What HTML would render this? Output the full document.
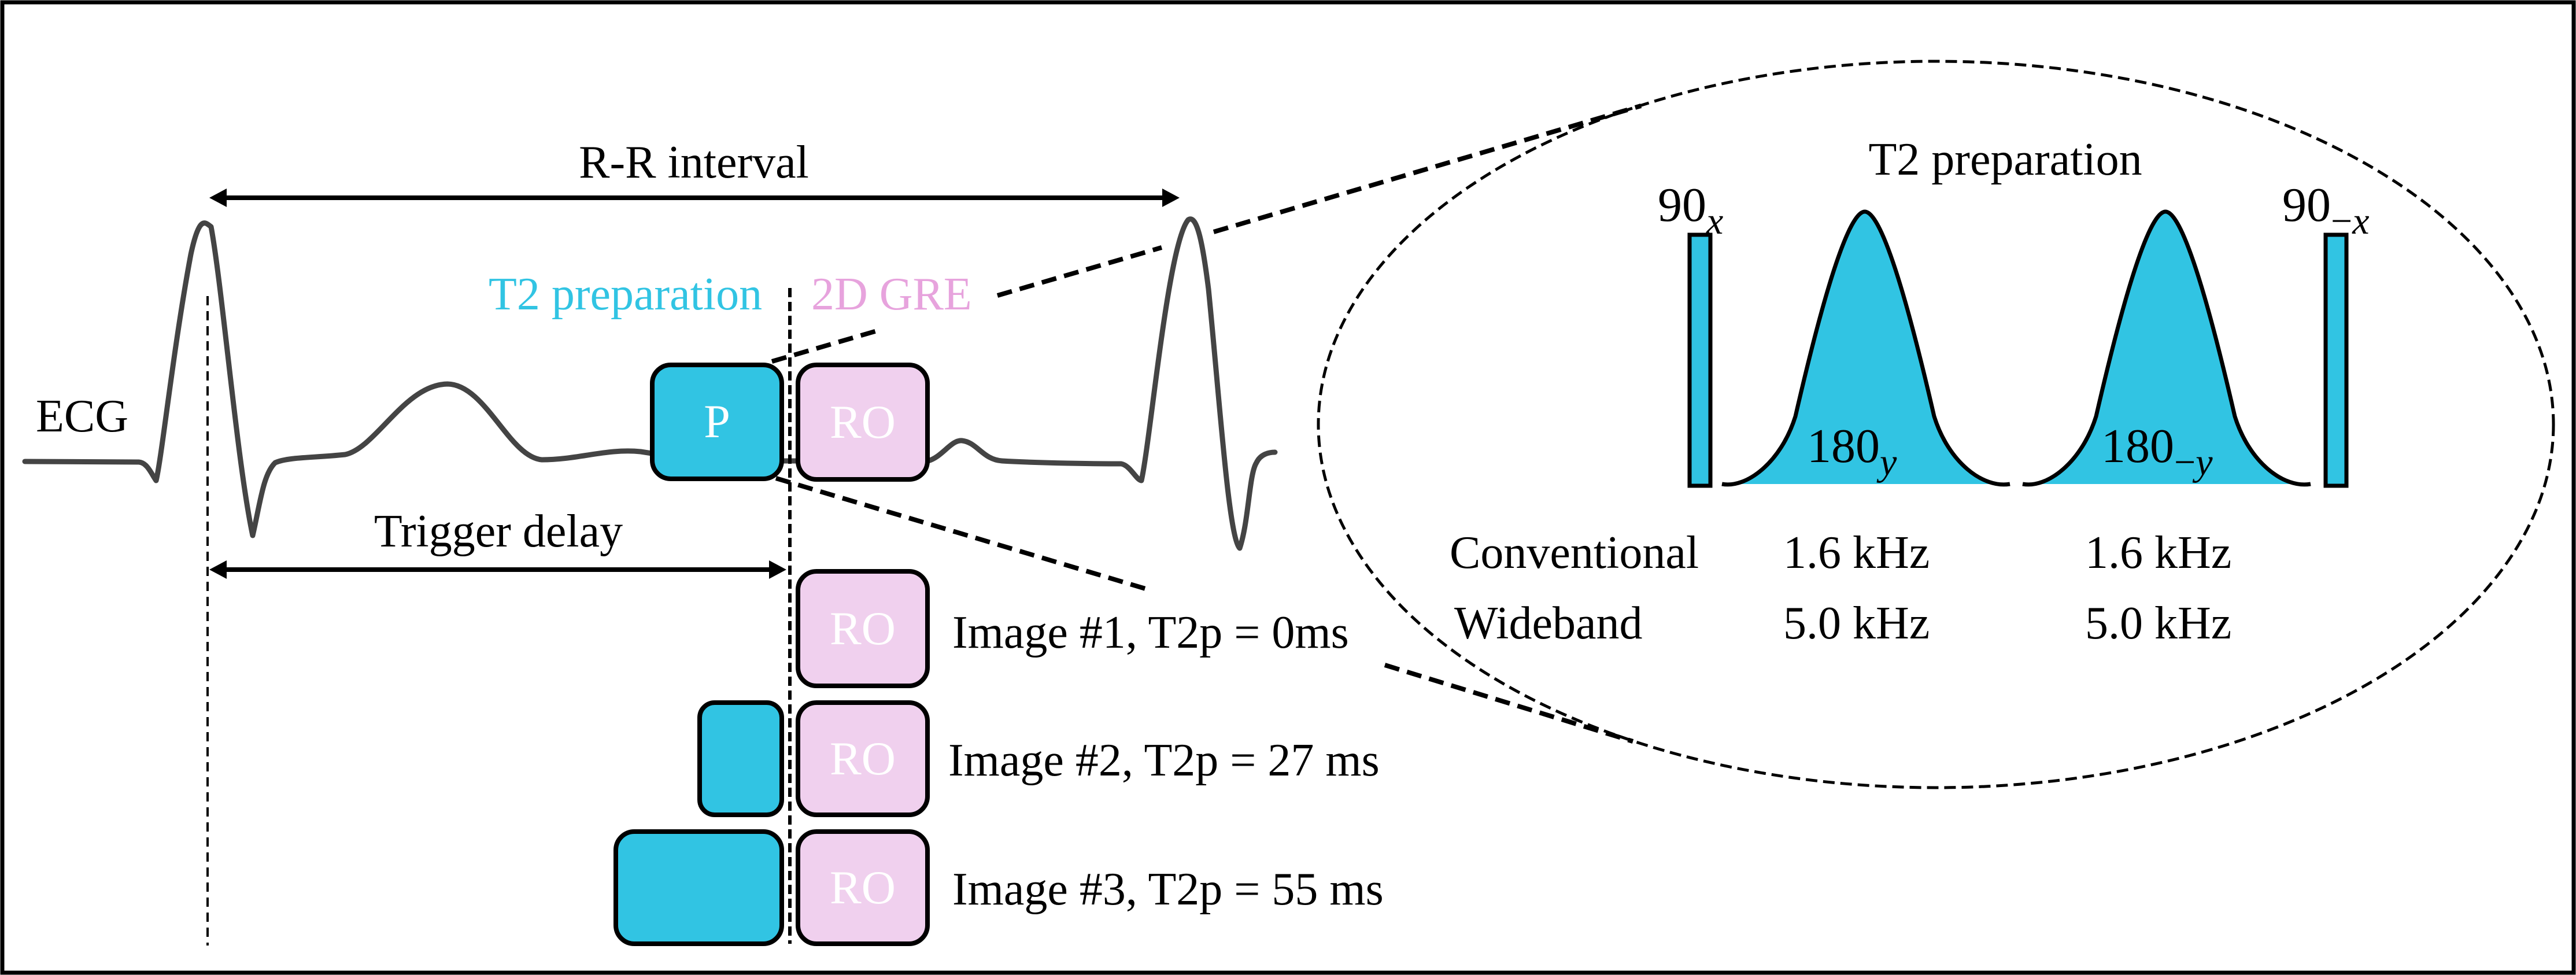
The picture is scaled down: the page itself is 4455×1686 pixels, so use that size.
<!DOCTYPE html>
<html><head><meta charset="utf-8"><style>
html,body{margin:0;padding:0;background:#fff}
svg{display:block}
</style></head><body>
<svg width="4455" height="1686" viewBox="0 0 4455 1686" xmlns="http://www.w3.org/2000/svg" font-family="'Liberation Serif','Times New Roman','DejaVu Serif',serif">
<rect x="4" y="4" width="4447" height="1678" fill="#fff" stroke="#000" stroke-width="7"/>

<!-- ECG trace -->
<path d="M43,798 L240,799 C255,800 262,820 270,831 C280,790 300,600 330,440 C345,370 355,385 365,392 C385,500 410,800 437,926 C450,870 455,820 476,800 C500,790 540,792 597,786 C650,775 700,665 774,664 C840,665 880,790 937,795 C1000,795 1050,775 1108,781 L1140,786 M1352,797 L1605,797 C1630,790 1645,760 1664,762 C1690,765 1700,795 1733,797 C1800,801 1900,802 1939,802 C1955,805 1965,830 1974,831 C1990,760 2020,420 2055,380 C2070,370 2080,420 2090,500 C2110,700 2125,930 2144,948 C2160,900 2160,820 2173,800 C2180,785 2195,782 2205,782" fill="none" stroke="#444" stroke-width="9" stroke-linecap="round" stroke-linejoin="round"/>

<!-- vertical dashed lines -->
<line x1="359" y1="512" x2="359" y2="1635" stroke="#000" stroke-width="4" stroke-dasharray="16,10"/>
<line x1="1366" y1="498" x2="1366" y2="1632" stroke="#000" stroke-width="6" stroke-dasharray="16,8"/>

<!-- arrows -->
<line x1="380" y1="342" x2="2020" y2="342" stroke="#000" stroke-width="8"/>
<polygon points="362,342 392,326 392,358" fill="#000"/>
<polygon points="2040,342 2010,326 2010,358" fill="#000"/>
<line x1="380" y1="985" x2="1340" y2="985" stroke="#000" stroke-width="8"/>
<polygon points="362,985 392,969 392,1001" fill="#000"/>
<polygon points="1360,985 1330,969 1330,1001" fill="#000"/>

<!-- dashed zoom lines -->
<g stroke="#000" stroke-width="8" stroke-dasharray="26,14" fill="none">
<line x1="1335" y1="625" x2="1527" y2="569"/>
<line x1="1725" y1="511" x2="2009" y2="428"/>
<line x1="2099" y1="401" x2="2838" y2="183"/>
<line x1="1342" y1="827" x2="1981" y2="1018"/>
<line x1="2395" y1="1150" x2="2824" y2="1282"/>
</g>

<!-- boxes -->
<g stroke="#000" stroke-width="8">
<rect x="1128" y="631" width="224" height="197" rx="32" fill="#31C4E3"/>
<rect x="1380" y="631" width="224" height="198" rx="32" fill="#F0D0EE"/>
<rect x="1380" y="988" width="224" height="198" rx="32" fill="#F0D0EE"/>
<rect x="1380" y="1215" width="224" height="194" rx="32" fill="#F0D0EE"/>
<rect x="1380" y="1438" width="224" height="194" rx="32" fill="#F0D0EE"/>
<rect x="1210" y="1215" width="142" height="194" rx="26" fill="#31C4E3"/>
<rect x="1065" y="1438" width="287" height="194" rx="32" fill="#31C4E3"/>
</g>
<g fill="#fff" font-size="82" text-anchor="middle">
<text x="1240" y="756">P</text>
<text x="1492" y="757">RO</text>
<text x="1492" y="1114">RO</text>
<text x="1492" y="1339">RO</text>
<text x="1492" y="1562">RO</text>
</g>

<!-- left labels -->
<g font-size="80" fill="#000">
<text x="1200" y="307" text-anchor="middle">R-R interval</text>
<text x="62" y="746">ECG</text>
<text x="862" y="945" text-anchor="middle">Trigger delay</text>
<text x="1647" y="1120">Image #1, T2p = 0ms</text>
<text x="1640" y="1341">Image #2, T2p = 27 ms</text>
<text x="1647" y="1564">Image #3, T2p = 55 ms</text>
</g>
<text x="845" y="535" font-size="80" fill="#31C4E3">T2 preparation</text>
<text x="1403" y="535" font-size="80" fill="#E7A3DD">2D GRE</text>

<!-- ellipse -->
<ellipse cx="3348" cy="734" rx="1068" ry="628" fill="none" stroke="#000" stroke-width="5" stroke-dasharray="20,10"/>

<text x="3468" y="302" font-size="80" text-anchor="middle">T2 preparation</text>

<!-- bars -->
<rect x="2922" y="406" width="36" height="434" fill="#31C4E3" stroke="#000" stroke-width="7"/>
<rect x="4022" y="406" width="36" height="434" fill="#31C4E3" stroke="#000" stroke-width="7"/>
<text x="2867" y="382" font-size="84">90<tspan font-style="italic" font-size="66" dy="22">x</tspan></text>
<text x="3947" y="382" font-size="84">90<tspan font-size="66" dy="22">−</tspan><tspan font-style="italic" font-size="66">x</tspan></text>

<!-- gaussians -->
<g>
<path d="M2978,837 C3020,845 3080,800 3105,720 C3135,590 3190,366 3225,366 C3260,366 3315,590 3345,720 C3370,800 3430,845 3476,837 Z" fill="#31C4E3"/>
<path d="M2978,837 C3020,845 3080,800 3105,720 C3135,590 3190,366 3225,366 C3260,366 3315,590 3345,720 C3370,800 3430,845 3476,837" fill="none" stroke="#000" stroke-width="7"/>
<path d="M3498,837 C3540,845 3600,800 3625,720 C3655,590 3710,366 3745,366 C3780,366 3835,590 3865,720 C3890,800 3950,845 3996,837 Z" fill="#31C4E3"/>
<path d="M3498,837 C3540,845 3600,800 3625,720 C3655,590 3710,366 3745,366 C3780,366 3835,590 3865,720 C3890,800 3950,845 3996,837" fill="none" stroke="#000" stroke-width="7"/>
</g>
<text x="3125" y="799" font-size="84">180<tspan font-style="italic" font-size="66" dy="22">y</tspan></text>
<text x="3634" y="799" font-size="84">180<tspan font-size="66" dy="22">−</tspan><tspan font-style="italic" font-size="66">y</tspan></text>

<g font-size="80">
<text x="2507" y="982">Conventional</text>
<text x="3084" y="982">1.6 kHz</text>
<text x="3606" y="982">1.6 kHz</text>
<text x="2515" y="1104">Wideband</text>
<text x="3084" y="1104">5.0 kHz</text>
<text x="3606" y="1104">5.0 kHz</text>
</g>
</svg>
</body></html>
